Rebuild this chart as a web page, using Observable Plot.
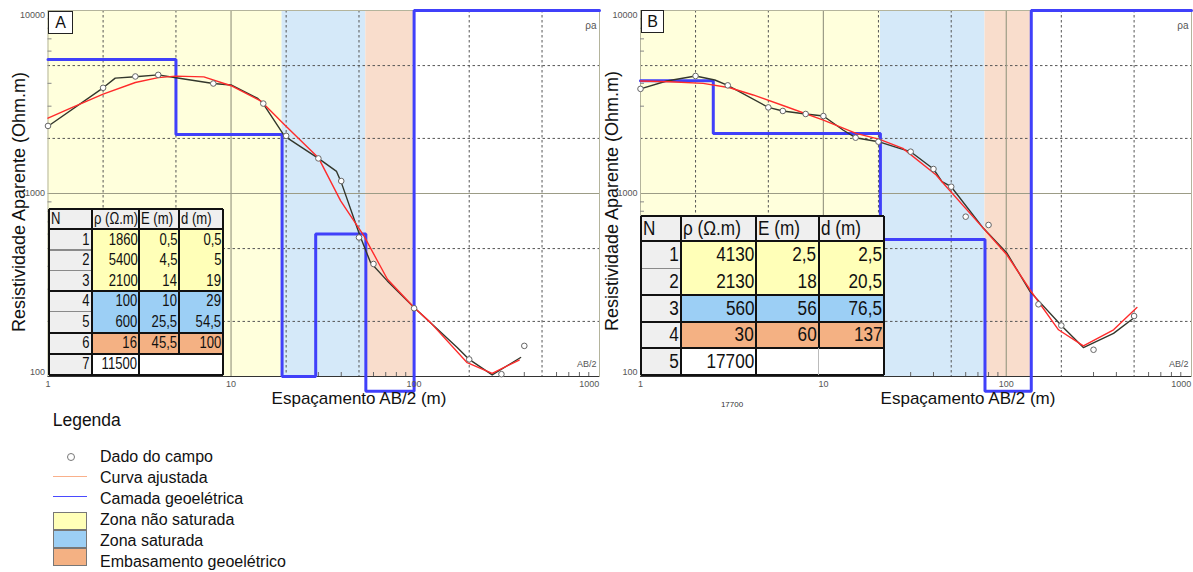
<!DOCTYPE html>
<html>
<head>
<meta charset="utf-8">
<script src="https://cdn.jsdelivr.net/npm/d3@7"></script>
<script src="https://cdn.jsdelivr.net/npm/@observablehq/plot@0.6"></script>
<style>
  body { margin: 0; background: #fff; }
  #root { position: relative; width: 1193px; height: 572px; overflow: hidden;
          font-family: "Liberation Sans", Arial, sans-serif; color: #111; }
  #root > svg, #root > div { position: absolute; }
</style>
</head>
<body>
<div id="root"></div>
<script>
// ---------------- DATA ----------------
// Panel A – layer model
const layerA_N    = [1, 2, 3, 4, 5, 6, 7];
const layerA_rho  = [1860, 5400, 2100, 100, 600, 16, 11500];
const layerA_E    = [0.5, 4.5, 14, 10, 25.5, 45.5];
const layerA_d    = [0.5, 5, 19, 29, 54.5, 100];
const layerA_zone = ["ns", "ns", "ns", "s", "s", "emb", "none"];
// Panel A – field data (AB/2, rho_a)
const fieldA_x   = [1, 2, 3, 4, 8, 15, 20, 30, 40, 50, 60, 100, 200, 300, 400];
const fieldA_rho = [2340, 3780, 4360, 4450, 3990, 3100, 2065, 1555, 1170, 575, 412, 236, 124, 103, 147];
// Panel A – field curve (black)
const curveA_x   = [1, 2, 2.33, 3, 4, 5, 8, 10, 14, 15, 19.6, 30, 37.7, 40, 50.6, 57.8, 71.4, 100, 172, 200, 267, 382];
const curveA_rho = [2330, 3780, 4270, 4345, 4450, 4290, 3990, 3920, 3310, 3090, 2060, 1555, 1320, 1150, 587, 420, 333, 238, 144, 124, 102, 127];
// Panel A – fitted curve (red)
const fitA_x   = [1, 1.33, 2, 3, 4, 5, 7.1, 10, 14.5, 19.4, 30, 39.7, 53.2, 63, 71.5, 100, 123, 195, 267, 375];
const fitA_rho = [2580, 2930, 3490, 4040, 4300, 4380, 4340, 3880, 3210, 2400, 1570, 912, 587, 429, 340, 238, 197, 119, 104, 123];

// Panel B – layer model
const layerB_N    = [1, 2, 3, 4, 5];
const layerB_rho  = [4130, 2130, 560, 30, 17700];
const layerB_E    = [2.5, 18, 56, 60];
const layerB_d    = [2.5, 20.5, 76.5, 137];
const layerB_zone = ["ns", "ns", "s", "emb", "none"];
// Panel B – field data
const fieldB_x   = [1, 2, 3, 5, 6, 8, 10, 15, 20, 30, 40, 50, 60, 80, 150, 200, 300, 500];
const fieldB_rho = [3730, 4386, 3900, 2954, 2825, 2720, 2650, 2018, 1919, 1692, 1361, 1089, 747, 673, 248, 190, 140, 214];
// Panel B – field curve (black)
const curveB_x   = [1, 1.39, 2, 2.55, 3, 5, 6, 8, 10, 12.8, 15, 20, 26.1, 30, 40, 44.5, 50, 75, 101, 135, 200, 264, 386, 496];
const curveB_rho = [3730, 4120, 4386, 4170, 3897, 2954, 2825, 2719, 2650, 2223, 2018, 1919, 1763, 1692, 1361, 1160, 1089, 645, 471, 291, 190, 144, 172, 208];
// Panel B – fitted curve (red)
const fitB_x   = [1, 1.45, 2.2, 3.08, 4.13, 6.28, 10, 15.1, 20.3, 27.2, 41.4, 44.5, 75, 101, 135, 193, 264, 386, 518];
const fitB_rho = [4120, 4083, 3997, 3785, 3455, 2980, 2520, 2130, 1975, 1765, 1262, 1160, 645, 461, 297, 180, 147, 180, 238];

// Axis ticks
const xMajor = [10, 100];
const xDashed = [2, 5, 20, 50, 200, 500];
const xMinor = [3, 4, 6, 7, 8, 9, 30, 40, 60, 70, 80, 90, 300, 400, 600, 700, 800, 900];
const yMajor = [1000];
const yDashed = [200, 500, 2000, 5000];
const yMinor = [300, 400, 600, 700, 800, 900, 3000, 4000, 6000, 7000, 8000, 9000];
const xTickLabels = [1, 10, 100];
const xTickLast = [1000];

// Text
const yTitle = "Resistividade Aparente (Ohm.m)";
const xTitle = "Espaçamento AB/2 (m)";
const tableHeader = ["N", "ρ (Ω.m)", "E (m)", "d (m)"];
const legendTitle = "Legenda";
const legendItems = ["Dado do campo", "Curva ajustada", "Camada geoelétrica", "Zona não saturada", "Zona saturada", "Embasamento geoelétrico"];

// ---------------- STYLE / LAYOUT ----------------
const XMAX = 1030, YMIN = 100, YMAX = 10000, FLOOR = 83;
const SVG_H = 410;
const zoneBg = { ns: "#ffffdc", s: "#d5e9f9", emb: "#f9ddcc" };
const zoneTbl = { ns: "#ffffb8", s: "#9ccff5", emb: "#f4b183", none: "#ffffff" };
const root = document.getElementById("root");

function layerSteps(rho, d) {
  const pts = [];
  let top = 0;
  for (let i = 0; i < rho.length; i++) {
    const bottom = i < d.length ? d[i] : XMAX;
    const x1 = Math.max(top, 1), x2 = Math.min(bottom, XMAX);
    if (x2 > x1) pts.push({ x: x1, y: rho[i] }, { x: x2, y: rho[i] });
    top = bottom;
  }
  return pts;
}
function zoneSpans(d, zone) {
  const spans = [];
  let top = 0;
  for (let i = 0; i < zone.length; i++) {
    const bottom = i < d.length ? d[i] : XMAX;
    if (zone[i] !== "none") {
      const last = spans[spans.length - 1];
      if (last && last.zone === zone[i]) last.x2 = bottom;
      else spans.push({ zone: zone[i], x1: Math.max(top, 1), x2: bottom });
    }
    top = bottom;
  }
  return spans;
}
const zip = (xs, ys) => xs.map((x, i) => ({ x, y: ys[i] }));

function panel(P) {
  const plotW = P.w - P.ml - P.mr, plotH = SVG_H - P.mt - P.mb;
  const zones = zoneSpans(P.d, P.zone);
  const tickStyle = { tickSize: 0, fontSize: 9, fill: "#555", label: null, tickFormat: d => String(d) };
  const svg = Plot.plot({
    width: P.w, height: SVG_H,
    marginLeft: P.ml, marginRight: P.mr, marginTop: P.mt, marginBottom: P.mb,
    x: { type: "log", domain: [1, XMAX], axis: null },
    y: { type: "log", domain: [YMIN, YMAX], axis: null },
    style: { background: "transparent", overflow: "visible", fontFamily: "'Liberation Sans', Arial, sans-serif" },
    marks: [
      ...zones.map(z => Plot.rect([z], { x1: "x1", x2: "x2", fill: zoneBg[z.zone] })),
      Plot.gridX(xDashed, { stroke: "#555", strokeOpacity: 1, strokeDasharray: "2.5,2.5" }),
      Plot.gridY(yDashed, { stroke: "#555", strokeOpacity: 1, strokeDasharray: "2.5,2.5" }),
      Plot.gridX(xMajor, { stroke: "#9c9c86", strokeOpacity: 1, strokeWidth: 1.2 }),
      Plot.gridY(yMajor, { stroke: "#9c9c86", strokeOpacity: 1, strokeWidth: 1.2 }),
      Plot.frame({ stroke: "#b4b49c" }),
      Plot.ruleY([YMIN], { stroke: "#333" }),
      Plot.tickY(yMinor, { y: d => d, insetRight: plotW - 4, stroke: "#888" }),
      Plot.tickX(xMinor, { x: d => d, insetTop: plotH - 4, stroke: "#666" }),
      Plot.line(layerSteps(P.rho, P.d), { x: "x", y: d => Math.min(Math.max(d.y, FLOOR), YMAX),
                stroke: "#4040fa", strokeWidth: 3, strokeLinejoin: "miter" }),
      Plot.line(zip(P.cx, P.crho), { x: "x", y: "y", stroke: "#33372c", strokeWidth: 1.4 }),
      Plot.line(zip(P.fx, P.frho), { x: "x", y: "y", stroke: "#ff2b2b", strokeWidth: 1.4 }),
      Plot.dot(zip(P.px, P.prho), { x: "x", y: "y", r: 2.8, stroke: "#666", fill: "white", strokeWidth: 1 }),
      Plot.axisX(xTickLabels, { ...tickStyle, tickPadding: 4 }),
      Plot.axisX(xTickLast, { ...tickStyle, tickPadding: 4, dx: -8 }),
      Plot.axisY([YMAX], { ...tickStyle, tickPadding: 3, dy: 5 }),
      Plot.axisY(yMajor, { ...tickStyle, tickPadding: 3 }),
      Plot.axisY([YMIN], { ...tickStyle, tickPadding: 3, dy: -4 }),
      Plot.text(["ρa"], { text: d => d, frameAnchor: "top-right", textAnchor: "end", dx: -3, dy: 11,
                fontSize: 10, fill: "#555" }),
      Plot.text(["AB/2"], { text: d => d, frameAnchor: "bottom-right", textAnchor: "end", dx: -3, dy: -10,
                fontSize: 9, fill: "#555" })
    ]
  });
  svg.style.left = P.left + "px";
  svg.style.top = "0px";
  root.appendChild(svg);
}

function div(css, text) {
  const e = document.createElement("div");
  e.style.cssText = "position:absolute;" + css;
  if (text !== undefined) e.textContent = text;
  root.appendChild(e);
  return e;
}
function label(x, cy, s, size, anchor, extra) {
  const tx = anchor === "middle" ? "-50%" : anchor === "end" ? "-100%" : "0";
  return div(`left:${x}px;top:${cy}px;font-size:${size}px;line-height:1;white-space:nowrap;transform:translate(${tx},-50%);${extra || ""}`, s);
}
const fmt = v => String(v).replace(".", ",");

function table(T) {
  const { cols, rows, font, squeeze } = T;
  const cell = (c, r, bg, text, align) => {
    const x = cols[c], w = cols[c + 1] - cols[c], y = rows[r], h = rows[r + 1] - rows[r];
    const e = div(`left:${x}px;top:${y}px;width:${w}px;height:${h}px;background:${bg};font-size:${font}px;` +
      `display:flex;align-items:center;justify-content:${align === "left" ? "flex-start" : "flex-end"};` +
      `box-sizing:border-box;padding:0 2px;overflow:hidden;white-space:nowrap;`);
    const s = document.createElement("span");
    s.textContent = text;
    s.style.cssText = `display:inline-block;transform:scaleX(${squeeze});transform-origin:${align === "left" ? "left" : "right"} center;`;
    e.appendChild(s);
    return e;
  };
  tableHeader.forEach((h, c) => cell(c, 0, "#efefef", h, "left"));
  T.N.forEach((n, i) => {
    const r = i + 1, bg = zoneTbl[T.zone[i]];
    cell(0, r, "#efefef", String(n), "right");
    cell(1, r, bg, fmt(T.rho[i]), "right");
    cell(2, r, bg, i < T.E.length ? fmt(T.E[i]) : "", "right");
    cell(3, r, bg, i < T.d.length ? fmt(T.d[i]) : "", "right");
  });
  const L = cols[0], R = cols[cols.length - 1], top = rows[0], bot = rows[rows.length - 1];
  const hline = (y, x1, x2, w, col) => div(`left:${x1}px;top:${y - w / 2}px;width:${x2 - x1}px;height:${w}px;background:${col};`);
  const vline = (x, y1, y2, w, col) => div(`left:${x - w / 2}px;top:${y1}px;width:${w}px;height:${y2 - y1}px;background:${col};`);
  for (let r = 2; r < rows.length - 1; r++) hline(rows[r], L, cols[1], 1.2, "#8a8a8a");
  hline(top, L, R, 2, "#111"); hline(rows[1], L, R, 2, "#111"); hline(bot, L, R, 2, "#111");
  for (let i = 1; i < T.zone.length; i++) if (T.zone[i] !== T.zone[i - 1]) hline(rows[i + 1], L, R, 2, "#111");
  const lastTop = rows[rows.length - 2];
  vline(L, top, bot, 2, "#111"); vline(cols[1], top, bot, 2, "#111"); vline(cols[2], top, bot, 2, "#111");
  vline(R, top, bot, 2, "#111");
  vline(cols[3], top, lastTop, 2, "#111");
  if (T.splitLast) vline(cols[3], lastTop, bot, 1, "#bbb");
}

// ---------------- PANELS ----------------
panel({ left: 0, w: 600, ml: 47.5, mr: 1, mt: 10, mb: 34,
        rho: layerA_rho, d: layerA_d, zone: layerA_zone,
        px: fieldA_x, prho: fieldA_rho, cx: curveA_x, crho: curveA_rho, fx: fitA_x, frho: fitA_rho });
panel({ left: 596, w: 597, ml: 44, mr: 2, mt: 10, mb: 34,
        rho: layerB_rho, d: layerB_d, zone: layerB_zone,
        px: fieldB_x, prho: fieldB_rho, cx: curveB_x, crho: curveB_rho, fx: fitB_x, frho: fitB_rho });

// panel letters
div("left:48px;top:11px;width:25px;height:23px;border:1.5px solid #222;background:#fff;box-sizing:border-box;" +
    "font-size:16px;display:flex;align-items:center;justify-content:center;", "A");
div("left:641px;top:10px;width:23px;height:23px;border:1.5px solid #222;background:#fff;box-sizing:border-box;" +
    "font-size:16px;display:flex;align-items:center;justify-content:center;", "B");

// axis titles
label(19, 202, yTitle, 18, "middle", "transform:translate(-50%,-50%) rotate(-90deg);");
label(612, 201, yTitle, 18, "middle", "transform:translate(-50%,-50%) rotate(-90deg);");
label(359, 398, xTitle, 17, "middle");
label(968, 398, xTitle, 17, "middle");

// tables
table({ N: layerA_N, rho: layerA_rho, E: layerA_E, d: layerA_d, zone: layerA_zone, splitLast: false,
        cols: [48.5, 91.7, 139.4, 179.4, 223.3], rows: [209.3, 229.3, 250, 270.7, 291, 311.7, 332.5, 353.5, 375],
        font: 17, squeeze: 0.77 });
table({ N: layerB_N, rho: layerB_rho, E: layerB_E, d: layerB_d, zone: layerB_zone, splitLast: true,
        cols: [640.8, 680.6, 756.2, 818.6, 884.4], rows: [216, 240.7, 268.3, 295, 321.7, 348.3, 375],
        font: 19.5, squeeze: 0.88 });

// stray small label under panel B
label(732, 405, String(layerB_rho[4]), 8, "middle", "color:#333;");

// legend
label(52.7, 421, legendTitle, 17.5, "start");
const legY = [456.7, 477.7, 499, 520, 541, 562.3];
legendItems.forEach((t, i) => label(100, legY[i], t, 16, "start"));
div(`left:67px;top:${legY[0] - 4}px;width:8px;height:8px;border:1px solid #777;border-radius:50%;box-sizing:border-box;`);
div(`left:53.3px;top:${legY[1] - 1.5}px;width:34px;height:1.3px;background:#f9b08a;`);
div(`left:53.3px;top:${legY[2] - 3.5}px;width:34px;height:1.3px;background:#4a4aff;`);
[["ns", 511.7, 530], ["s", 530, 547.7], ["emb", 547.7, 565.7]].forEach(([z, y1, y2]) =>
  div(`left:53.3px;top:${y1}px;width:34px;height:${y2 - y1}px;background:${zoneTbl[z]};border:1px solid #777;box-sizing:border-box;`));
</script>
</body>
</html>
